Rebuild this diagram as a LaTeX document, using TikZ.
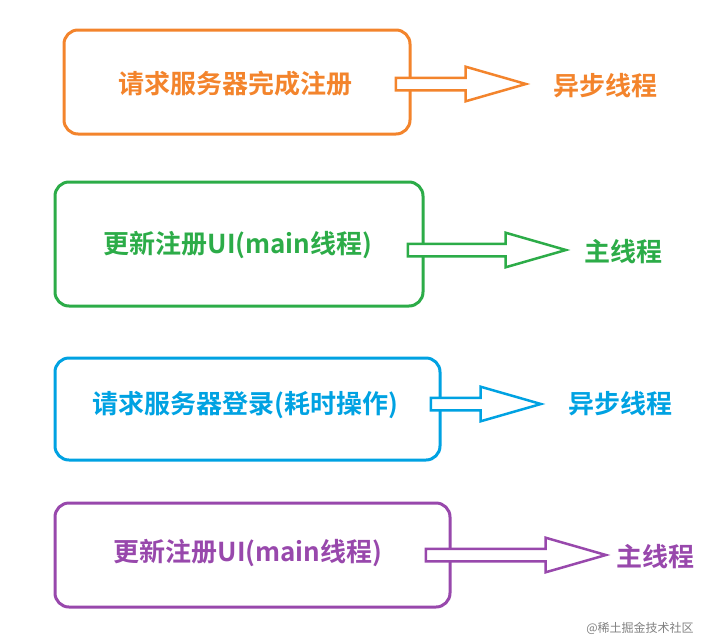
\documentclass[tikz,border=0pt]{standalone}
\usepackage{fontspec}
\setmainfont{Noto Sans CJK SC}[BoldFont={* Bold}]
\usetikzlibrary{shapes.arrows}
\definecolor{stOrange}{RGB}{243, 132, 44}
\definecolor{stGreen}{RGB}{44, 172, 72}
\definecolor{stBlue}{RGB}{0, 162, 226}
\definecolor{stPurple}{RGB}{152, 72, 172}
\tikzset{
    stage/.style={
        rectangle,
        rounded corners=14pt,
        line width=3pt,
        draw=#1
    },
    hollow/.style={
        single arrow,
        draw=#1,
        line width=2.5pt,
        fill=white,
        inner sep=0pt,
        minimum width=34pt,
        single arrow head extend=11pt,
        single arrow tip angle=32,
        text height=10pt
    },
    thread/.style={
        text=#1,
        font=\bfseries\fontsize{26}{30}\selectfont
    }
}
\begin{document}
\begin{tikzpicture}[x=1pt, y=-1pt]
  \useasboundingbox (0,0) rectangle (728,643);

  % register request
  \draw[stage=stOrange] (64,30) rectangle (410,134);
  \node[thread=stOrange] (req) at (235,84) {请求服务器完成注册};
  \node[hollow=stOrange, minimum height=130pt] (a1) at (450,84) {};
  \node[thread=stOrange] (t1) at (605,86) {异步线程};

  % register UI
  \draw[stage=stGreen] (55,182) rectangle (423,306);
  \node[thread=stGreen] (ui1) at (238,245) {更新注册UI(main线程)};
  \node[hollow=stGreen, minimum height=158pt] (a2) at (476,250) {};
  \node[thread=stGreen] (t2) at (623,252) {主线程};

  % login request
  \draw[stage=stBlue] (55,358) rectangle (440,460);
  \node[thread=stBlue] (login) at (245,405) {请求服务器登录(耗时操作)};
  \node[hollow=stBlue, minimum height=110pt] (a3) at (475,404) {};
  \node[thread=stBlue] (t3) at (620,404) {异步线程};

  % login UI
  \draw[stage=stPurple] (55,503) rectangle (450,607);
  \node[thread=stPurple] (ui2) at (248,553) {更新注册UI(main线程)};
  \node[hollow=stPurple, minimum height=180pt] (a4) at (505,555) {};
  \node[thread=stPurple] (t4) at (655,557) {主线程};

  \node[text=gray, font=\fontsize{12}{14}\selectfont] (mark) at (640,628) {@稀土掘金技术社区};
\end{tikzpicture}
\end{document}
